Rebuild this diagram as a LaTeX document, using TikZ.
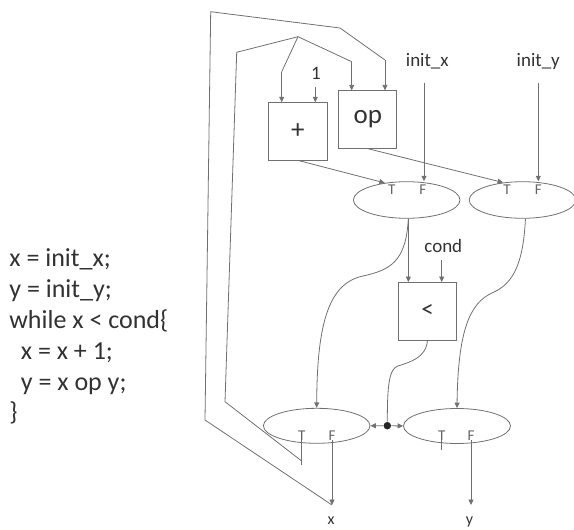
\documentclass[tikz,border=0pt]{standalone}
\usepackage{fontspec}
\setmainfont{Carlito}
\usetikzlibrary{arrows.meta,shapes.geometric}
\definecolor{ln}{RGB}{112,112,112}
\definecolor{tx}{RGB}{50,50,50}
\definecolor{tf}{RGB}{100,100,100}
\begin{document}
\begin{tikzpicture}[x=1pt,y=-1pt,
  line width=0.8pt, color=ln,
  arr/.style={-{Triangle[length=5.5pt,width=5pt]}},
  opbox/.style={draw=ln, minimum width=58pt, minimum height=57.5pt, inner sep=0pt, text=tx},
  sel/.style={ellipse, draw=ln, minimum width=106.6pt, minimum height=36.6pt, inner sep=0pt},
  lbl/.style={text=tx, font=\fontsize{19}{22}\selectfont, inner sep=0pt, anchor=base},
  tflbl/.style={text=tf, font=\fontsize{15}{17}\selectfont, inner sep=0pt, anchor=base},
  code/.style={text=tx, font=\fontsize{26}{30}\selectfont, inner sep=0pt, anchor=base west}]
\useasboundingbox (0,0) rectangle (574,530);
\clip (0,0) rectangle (574,530);

% code
\node[code] (l1) at (9,266.7) {x = init\_x;};
\node[code] (l2) at (9,297.5) {y = init\_y;};
\node[code] (l3) at (9,328.3) {while x < cond\{};
\node[code] (l4) at (20.5,359.1) {x = x + 1;};
\node[code] (l5) at (20.5,390) {y = x op y;};
\node[code] (l6) at (9,420.8) {\}};

% boxes
\node[opbox, minimum width=59pt, minimum height=57.3pt, font=\fontsize{27}{29}\selectfont] (plus) at (297.8,131.3) {+};
\node[opbox, font=\fontsize{27}{29}\selectfont] (op) at (367.8,119.5) {op};
\node[opbox, font=\fontsize{25}{27}\selectfont] (lt) at (427.5,311.2) {<};

% selectors
\node[sel] (e1) at (406.7,200) {};
\node[sel] (e2) at (522.5,200) {};
\node[sel, minimum height=35pt] (e3) at (316.7,425.8) {};
\node[sel, minimum width=107pt, minimum height=35pt] (e4) at (457,426) {};

\node[tflbl] (T1) at (391.7,194) {T};
\node[tflbl] (F1) at (422.7,194) {F};
\node[tflbl] (T2) at (507,194) {T};
\node[tflbl] (F2) at (538.3,194) {F};
\node[tflbl] (T3) at (301.7,440) {T};
\node[tflbl] (F3) at (332,440) {F};
\node[tflbl] (T4) at (441.7,440) {T};
\node[tflbl] (F4) at (471,440) {F};

\node[circle, fill=black!85, draw=none, inner sep=0pt, minimum size=7.5pt] (dot) at (387.3,425.7) {};

% labels
\node[lbl] (one) at (316,79.3) {1};
\node[lbl] (initx) at (427.3,66.5) {init\_x};
\node[lbl] (inity) at (538.3,66.5) {init\_y};
\node[lbl] (cond) at (443.3,252.5) {cond};
\node[lbl, font=\fontsize{16}{18}\selectfont] (xl) at (331,524.5) {x};
\node[lbl, font=\fontsize{16}{18}\selectfont] (yl) at (469.5,524.5) {y};

% coordinates
\coordinate (c1) at (315.3,87);
\coordinate (ix) at (424,82.7);
\coordinate (iy) at (538.3,82.7);
\coordinate (cc) at (441.7,260);
\coordinate (B) at (298,36.7);
\coordinate (p1) at (281.7,71.7);
\coordinate (o1) at (351.7,61.7);
\coordinate (o2) at (385,60);
\coordinate (xo) at (332,505);
\coordinate (yo) at (471,505);
\coordinate (t3e) at (301.7,465);
\coordinate (t3j) at (301.7,461);

% connectors
\draw[arr] (c1) -- (c1 |- plus.north);
\draw[arr] (ix) -- (ix |- e1.north);
\draw[arr] (iy) -- (iy |- e2.north);
\draw[arr] (cc) -- (cc |- lt.north);
\draw[arr] (plus.south) -- (e1.142);
\draw[arr] (op.south) -- (e2.138);
\draw[arr] (e1.-85) -- (e1.-85 |- lt.north);
\draw[arr] (e1.-85) .. controls (406,262) and (390,270) .. (363,276)
  .. controls (330,283) and (317,320) .. (e3.north);
\draw[arr] (e2.-81) .. controls (523,270) and (510,285) .. (492,293)
  .. controls (470,303) and (458,330) .. (e4.north);
\draw (lt.south) .. controls (426,358) and (410,362) .. (398,366)
  .. controls (390,369) and (387.3,380) .. (dot.north);
\draw[arr] (dot) -- (e3.east);
\draw[arr] (dot) -- (e4.west);
\draw[arr] (F3.base) -- (xo);
\draw[arr] (F4.base) -- (yo);
\draw (T3.base) -- (t3e);
\draw (T4.base) -- ++(0,10);

% inner loop (x feedback)
\draw (t3j) -- (225,401.7) -- (236.7,52.3) -- (B);
\draw (B) -- (p1);
\draw[arr] (p1) -- (p1 |- plus.north);
\draw (B) -- (o1);
\draw[arr] (o1) -- (o1 |- op.north);

% outer loop
\draw (xo) -- (205,420) -- (210.7,11.7) -- (340,28) -- (o2);
\draw[arr] (o2) -- (o2 |- op.north);
\end{tikzpicture}
\end{document}
